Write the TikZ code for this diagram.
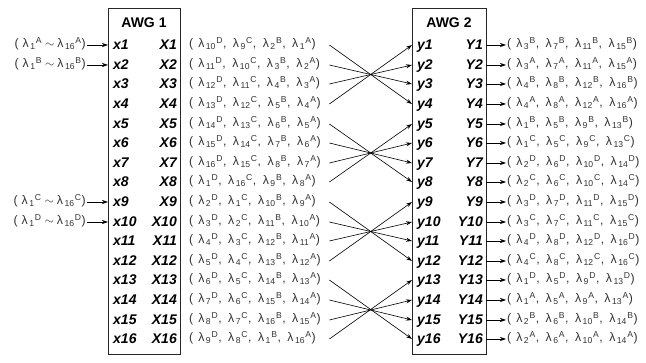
\documentclass[tikz,border=0pt]{standalone}
\usepackage{fontspec}
\setmainfont{Liberation Sans}
\usetikzlibrary{arrows.meta}
\newcommand{\lm}[2]{λ\hspace{1.5pt}\textsubscript{#1}\hspace{0.3pt}\textsuperscript{#2}}
\newcommand{\wset}[4]{(\hspace{5pt}#1,\hspace{6.5pt}#2,\hspace{6.5pt}#3,\hspace{6.5pt}#4)}
\begin{document}
\begin{tikzpicture}[x=1pt,y=-1pt,
    lab/.style={font=\fontsize{14}{14}\selectfont\bfseries\itshape, inner ysep=0pt, text height=10pt, text depth=0pt},
    xl/.style={lab, anchor=west, inner xsep=5pt},
    Xl/.style={lab, anchor=east, inner xsep=3pt},
    title/.style={font=\fontsize{14}{14}\selectfont\bfseries},
    wl/.style={font=\fontsize{12.3}{14}\selectfont, text=black!80, inner sep=1pt, text height=9pt, text depth=3pt},
    mid/.style={wl, anchor=west, text width=139pt, align=left},
    inp/.style={wl, anchor=east},
    outp/.style={wl, anchor=west},
    box/.style={draw=black!85, line width=1pt},
    wire/.style={-{Stealth[length=6pt,width=4pt]}, line width=0.6pt}]
  \useasboundingbox (0,0) rectangle (646,363);
  % the two AWGs
  \node[box, minimum width=72pt, minimum height=346pt] (awg1) at (144,182) {};
  \node[box, minimum width=74pt, minimum height=346pt] (awg2) at (449,182) {};
  \node[title] (t1) at (144,23) {AWG 1};
  \node[title] (t2) at (449,23) {AWG 2};
  % ports of AWG 1
  \draw
    (108,45) node[xl] (x1){x1}     (180,45) node[Xl] (X1){X1}
    (108,65) node[xl] (x2){x2}     (180,65) node[Xl] (X2){X2}
    (108,84) node[xl] (x3){x3}     (180,84) node[Xl] (X3){X3}
    (108,104) node[xl] (x4){x4}    (180,104) node[Xl] (X4){X4}
    (108,124) node[xl] (x5){x5}    (180,124) node[Xl] (X5){X5}
    (108,143) node[xl] (x6){x6}    (180,143) node[Xl] (X6){X6}
    (108,163) node[xl] (x7){x7}    (180,163) node[Xl] (X7){X7}
    (108,182) node[xl] (x8){x8}    (180,182) node[Xl] (X8){X8}
    (108,202) node[xl] (x9){x9}    (180,202) node[Xl] (X9){X9}
    (108,222) node[xl] (x10){x10}  (180,222) node[Xl] (X10){X10}
    (108,241) node[xl] (x11){x11}  (180,241) node[Xl] (X11){X11}
    (108,261) node[xl] (x12){x12}  (180,261) node[Xl] (X12){X12}
    (108,280) node[xl] (x13){x13}  (180,280) node[Xl] (X13){X13}
    (108,300) node[xl] (x14){x14}  (180,300) node[Xl] (X14){X14}
    (108,320) node[xl] (x15){x15}  (180,320) node[Xl] (X15){X15}
    (108,339) node[xl] (x16){x16}  (180,339) node[Xl] (X16){X16};
  % ports of AWG 2
  \draw
    (412,45) node[xl] (y1){y1}     (486,45) node[Xl] (Y1){Y1}
    (412,65) node[xl] (y2){y2}     (486,65) node[Xl] (Y2){Y2}
    (412,84) node[xl] (y3){y3}     (486,84) node[Xl] (Y3){Y3}
    (412,104) node[xl] (y4){y4}    (486,104) node[Xl] (Y4){Y4}
    (412,124) node[xl] (y5){y5}    (486,124) node[Xl] (Y5){Y5}
    (412,143) node[xl] (y6){y6}    (486,143) node[Xl] (Y6){Y6}
    (412,163) node[xl] (y7){y7}    (486,163) node[Xl] (Y7){Y7}
    (412,182) node[xl] (y8){y8}    (486,182) node[Xl] (Y8){Y8}
    (412,202) node[xl] (y9){y9}    (486,202) node[Xl] (Y9){Y9}
    (412,222) node[xl] (y10){y10}  (486,222) node[Xl] (Y10){Y10}
    (412,241) node[xl] (y11){y11}  (486,241) node[Xl] (Y11){Y11}
    (412,261) node[xl] (y12){y12}  (486,261) node[Xl] (Y12){Y12}
    (412,280) node[xl] (y13){y13}  (486,280) node[Xl] (Y13){Y13}
    (412,300) node[xl] (y14){y14}  (486,300) node[Xl] (Y14){Y14}
    (412,320) node[xl] (y15){y15}  (486,320) node[Xl] (Y15){Y15}
    (412,339) node[xl] (y16){y16}  (486,339) node[Xl] (Y16){Y16};
  % inputs
  \draw
    (87,45) node[inp] (iA){(\hspace{4pt}\lm{1}{A}\hspace{3pt}$\sim$\hspace{3pt}\lm{16}{A})}
    (87,65) node[inp] (iB){(\hspace{4pt}\lm{1}{B}\hspace{3pt}$\sim$\hspace{3pt}\lm{16}{B})}
    (87,202) node[inp] (iC){(\hspace{4pt}\lm{1}{C}\hspace{3pt}$\sim$\hspace{3pt}\lm{16}{C})}
    (87,222) node[inp] (iD){(\hspace{4pt}\lm{1}{D}\hspace{3pt}$\sim$\hspace{3pt}\lm{16}{D})};
  % outputs of AWG 1
  \draw
    (188,45) node[mid] (m1){\wset{\lm{10}{D}}{\lm{9}{C}}{\lm{2}{B}}{\lm{1}{A}}}
    (188,65) node[mid] (m2){\wset{\lm{11}{D}}{\lm{10}{C}}{\lm{3}{B}}{\lm{2}{A}}}
    (188,84) node[mid] (m3){\wset{\lm{12}{D}}{\lm{11}{C}}{\lm{4}{B}}{\lm{3}{A}}}
    (188,104) node[mid] (m4){\wset{\lm{13}{D}}{\lm{12}{C}}{\lm{5}{B}}{\lm{4}{A}}}
    (188,124) node[mid] (m5){\wset{\lm{14}{D}}{\lm{13}{C}}{\lm{6}{B}}{\lm{5}{A}}}
    (188,143) node[mid] (m6){\wset{\lm{15}{D}}{\lm{14}{C}}{\lm{7}{B}}{\lm{6}{A}}}
    (188,163) node[mid] (m7){\wset{\lm{16}{D}}{\lm{15}{C}}{\lm{8}{B}}{\lm{7}{A}}}
    (188,182) node[mid] (m8){\wset{\lm{1}{D}}{\lm{16}{C}}{\lm{9}{B}}{\lm{8}{A}}}
    (188,202) node[mid] (m9){\wset{\lm{2}{D}}{\lm{1}{C}}{\lm{10}{B}}{\lm{9}{A}}}
    (188,222) node[mid] (m10){\wset{\lm{3}{D}}{\lm{2}{C}}{\lm{11}{B}}{\lm{10}{A}}}
    (188,241) node[mid] (m11){\wset{\lm{4}{D}}{\lm{3}{C}}{\lm{12}{B}}{\lm{11}{A}}}
    (188,261) node[mid] (m12){\wset{\lm{5}{D}}{\lm{4}{C}}{\lm{13}{B}}{\lm{12}{A}}}
    (188,280) node[mid] (m13){\wset{\lm{6}{D}}{\lm{5}{C}}{\lm{14}{B}}{\lm{13}{A}}}
    (188,300) node[mid] (m14){\wset{\lm{7}{D}}{\lm{6}{C}}{\lm{15}{B}}{\lm{14}{A}}}
    (188,320) node[mid] (m15){\wset{\lm{8}{D}}{\lm{7}{C}}{\lm{16}{B}}{\lm{15}{A}}}
    (188,339) node[mid] (m16){\wset{\lm{9}{D}}{\lm{8}{C}}{\lm{1}{B}}{\lm{16}{A}}};
  % outputs of AWG 2
  \draw
    (506,45) node[outp] (o1){\wset{\lm{3}{B}}{\lm{7}{B}}{\lm{11}{B}}{\lm{15}{B}}}
    (506,65) node[outp] (o2){\wset{\lm{3}{A}}{\lm{7}{A}}{\lm{11}{A}}{\lm{15}{A}}}
    (506,84) node[outp] (o3){\wset{\lm{4}{B}}{\lm{8}{B}}{\lm{12}{B}}{\lm{16}{B}}}
    (506,104) node[outp] (o4){\wset{\lm{4}{A}}{\lm{8}{A}}{\lm{12}{A}}{\lm{16}{A}}}
    (506,124) node[outp] (o5){\wset{\lm{1}{B}}{\lm{5}{B}}{\lm{9}{B}}{\lm{13}{B}}}
    (506,143) node[outp] (o6){\wset{\lm{1}{C}}{\lm{5}{C}}{\lm{9}{C}}{\lm{13}{C}}}
    (506,163) node[outp] (o7){\wset{\lm{2}{D}}{\lm{6}{D}}{\lm{10}{D}}{\lm{14}{D}}}
    (506,182) node[outp] (o8){\wset{\lm{2}{C}}{\lm{6}{C}}{\lm{10}{C}}{\lm{14}{C}}}
    (506,202) node[outp] (o9){\wset{\lm{3}{D}}{\lm{7}{D}}{\lm{11}{D}}{\lm{15}{D}}}
    (506,222) node[outp] (o10){\wset{\lm{3}{C}}{\lm{7}{C}}{\lm{11}{C}}{\lm{15}{C}}}
    (506,241) node[outp] (o11){\wset{\lm{4}{D}}{\lm{8}{D}}{\lm{12}{D}}{\lm{16}{D}}}
    (506,261) node[outp] (o12){\wset{\lm{4}{C}}{\lm{8}{C}}{\lm{12}{C}}{\lm{16}{C}}}
    (506,280) node[outp] (o13){\wset{\lm{1}{D}}{\lm{5}{D}}{\lm{9}{D}}{\lm{13}{D}}}
    (506,300) node[outp] (o14){\wset{\lm{1}{A}}{\lm{5}{A}}{\lm{9}{A}}{\lm{13}{A}}}
    (506,320) node[outp] (o15){\wset{\lm{2}{B}}{\lm{6}{B}}{\lm{10}{B}}{\lm{14}{B}}}
    (506,339) node[outp] (o16){\wset{\lm{2}{A}}{\lm{6}{A}}{\lm{10}{A}}{\lm{14}{A}}};
  \begin{scope}[wire]
    \draw (iA) to (x1.west);
    \draw (iB) to (x2.west);
    \draw (iC) to (x9.west);
    \draw (iD) to (x10.west);
    \draw (m1.east) to (y4.west);
    \draw (m2.east) to (y3.west);
    \draw (m3.east) to (y2.west);
    \draw (m4.east) to (y1.west);
    \draw (m5.east) to (y8.west);
    \draw (m6.east) to (y7.west);
    \draw (m7.east) to (y6.west);
    \draw (m8.east) to (y5.west);
    \draw (m9.east) to (y12.west);
    \draw (m10.east) to (y11.west);
    \draw (m11.east) to (y10.west);
    \draw (m12.east) to (y9.west);
    \draw (m13.east) to (y16.west);
    \draw (m14.east) to (y15.west);
    \draw (m15.east) to (y14.west);
    \draw (m16.east) to (y13.west);
    \draw (Y1.east) to (o1);
    \draw (Y2.east) to (o2);
    \draw (Y3.east) to (o3);
    \draw (Y4.east) to (o4);
    \draw (Y5.east) to (o5);
    \draw (Y6.east) to (o6);
    \draw (Y7.east) to (o7);
    \draw (Y8.east) to (o8);
    \draw (Y9.east) to (o9);
    \draw (Y10.east) to (o10);
    \draw (Y11.east) to (o11);
    \draw (Y12.east) to (o12);
    \draw (Y13.east) to (o13);
    \draw (Y14.east) to (o14);
    \draw (Y15.east) to (o15);
    \draw (Y16.east) to (o16);
  \end{scope}
\end{tikzpicture}
\end{document}
